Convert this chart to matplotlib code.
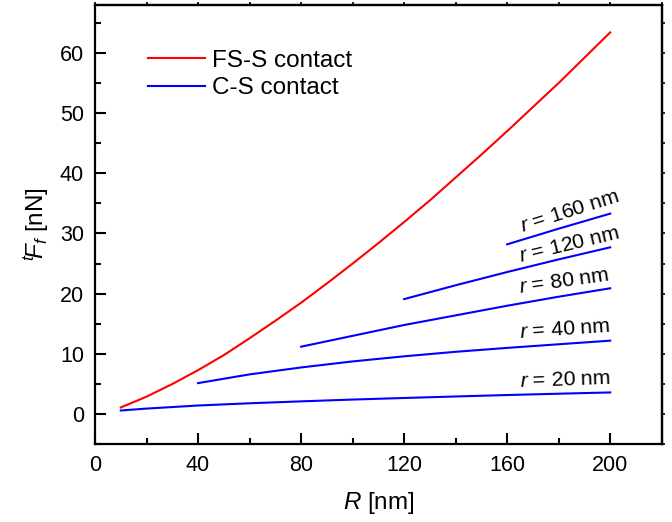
import numpy as np
import matplotlib
matplotlib.use('Agg')
import matplotlib.pyplot as plt
from matplotlib.ticker import MultipleLocator

plt.rcParams['font.family'] = ['Liberation Sans', 'DejaVu Sans']
plt.rcParams['mathtext.fontset'] = 'custom'
plt.rcParams['mathtext.rm'] = 'Liberation Sans'
plt.rcParams['mathtext.it'] = 'Liberation Sans:italic'

# FS-S contact (red)
R_fs = [10, 20, 30, 40, 50, 60, 70, 80, 90, 100, 110, 120, 130, 140, 150, 160, 170, 180, 190, 200]
F_fs = [1.1, 2.9, 5.0, 7.3, 9.8, 12.6, 15.5, 18.5, 21.7, 25.0, 28.4, 31.9, 35.5, 39.3, 43.1, 47.0, 51.0, 55.0, 59.2, 63.4]

# C-S contact (blue), one line per tip radius r
R_r20 = [10, 20, 40, 60, 80, 100, 120, 140, 160, 180, 200]
F_r20 = [0.6, 0.92, 1.43, 1.8, 2.12, 2.42, 2.68, 2.93, 3.17, 3.39, 3.6]
R_r40 = [40, 60, 80, 100, 120, 140, 160, 180, 200]
F_r40 = [5.15, 6.6, 7.75, 8.75, 9.6, 10.35, 11.0, 11.6, 12.2]
R_r80 = [80, 100, 120, 140, 160, 180, 200]
F_r80 = [11.2, 13.0, 14.8, 16.4, 18.0, 19.5, 20.9]
R_r120 = [120, 140, 160, 180, 200]
F_r120 = [19.1, 21.4, 23.6, 25.7, 27.7]
R_r160 = [160, 180, 200]
F_r160 = [28.2, 30.8, 33.3]

cs_curves = [(R_r20, F_r20), (R_r40, F_r40), (R_r80, F_r80), (R_r120, F_r120), (R_r160, F_r160)]

# label text, position, angle
labels = ['$r$ = 20 nm', '$r$ = 40 nm', '$r$ = 80 nm', '$r$ = 120 nm', '$r$ = 160 nm']
label_x = [182.5, 182.5, 182, 184, 184.5]
label_y = [5.6, 14.0, 22.1, 28.1, 33.7]
label_rot = [2, 4, 8, 13.5, 17.5]

fig = plt.figure(figsize=(6.72, 5.22), dpi=100)
ax = fig.add_axes([0.1414, 0.149, 0.8433, 0.842])

ax.plot(R_fs, F_fs, color='#ff0000', lw=1.5, label='FS-S contact')
for i, (rr, ff) in enumerate(cs_curves):
    ax.plot(rr, ff, color='#0000ff', lw=1.5, label='C-S contact' if i == 0 else None)

for t, x, y, rot in zip(labels, label_x, label_y, label_rot):
    ax.text(x, y, t, fontsize=15.3, rotation=rot, ha='center', va='center', rotation_mode='anchor')

ax.set_xlim(0, 220)
ax.set_ylim(-5, 68)
ax.xaxis.set_major_locator(MultipleLocator(40))
ax.xaxis.set_minor_locator(MultipleLocator(20))
ax.yaxis.set_major_locator(MultipleLocator(10))
ax.yaxis.set_minor_locator(MultipleLocator(5))
ax.tick_params(which='major', direction='in', length=8, width=1.5, labelsize=15.5, pad=8)
ax.tick_params(which='minor', direction='in', length=4, width=1.5)

for s in ax.spines.values():
    s.set_linewidth(1.6)

# small outward ticks on top and right
top = ax.secondary_xaxis('top')
top.xaxis.set_major_locator(MultipleLocator(20))
top.tick_params(direction='out', length=2, width=1.2, labeltop=False)
top.spines['top'].set_linewidth(1.6)
right = ax.secondary_yaxis('right')
right.yaxis.set_major_locator(MultipleLocator(5))
right.tick_params(direction='out', length=2, width=1.2, labelright=False)
right.spines['right'].set_linewidth(1.6)

ax.set_xlabel('$R$ [nm]', fontsize=17.5, labelpad=10)
ax.set_ylabel('$^{t}\\!F_{f}$ [nN]', fontsize=17.5, labelpad=6)

ax.legend(loc='upper left', bbox_to_anchor=(0.055, 0.947), frameon=False, fontsize=17.5,
          handlelength=2.35, handletextpad=0.3, labelspacing=0.23)

fig.savefig('out.png', dpi=100)
